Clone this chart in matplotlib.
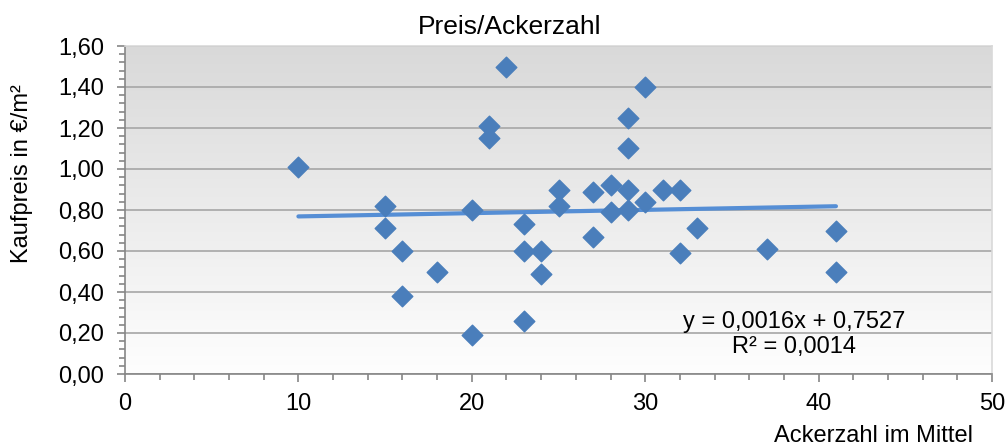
import numpy as np
import matplotlib.pyplot as plt
from matplotlib.ticker import MultipleLocator, FuncFormatter

plt.rcParams['font.family'] = ['Liberation Sans', 'DejaVu Sans']

## DATA
ackerzahl = [10, 15, 15, 16, 16, 18, 20, 20, 21, 21, 22, 23, 23, 23, 24, 24,
             25, 25, 27, 27, 28, 28, 29, 29, 29, 29, 30, 30, 31, 32, 32, 33,
             37, 41, 41]
kaufpreis = [1.01, 0.82, 0.71, 0.60, 0.38, 0.50, 0.80, 0.19, 1.21, 1.15, 1.50,
             0.73, 0.60, 0.26, 0.60, 0.49, 0.90, 0.82, 0.89, 0.67, 0.92, 0.79,
             1.25, 1.10, 0.90, 0.80, 1.40, 0.84, 0.90, 0.90, 0.59, 0.71,
             0.61, 0.70, 0.50]

# Trendline as shown in the chart
slope = 0.0016
intercept = 0.7527
r2 = 0.0014

x = np.array(ackerzahl)
y = np.array(kaufpreis)

## PLOT
fig = plt.figure(figsize=(10.07, 4.46), dpi=100)
ax = fig.add_axes([125 / 1007, 72 / 446, 867 / 1007, 328 / 446])

# gradient background, light at bottom, grey at top
grad = np.linspace(0, 1, 256).reshape(-1, 1)
ax.imshow(grad, extent=[0, 1, 0, 1], transform=ax.transAxes, aspect='auto',
          cmap=plt.matplotlib.colors.LinearSegmentedColormap.from_list(
              'bg', ['#fefefe', '#d9d9d9']),
          origin='lower', zorder=0)

ax.grid(axis='y', color='#a6a6a6', linewidth=1.2, zorder=1)
ax.set_axisbelow(True)

trend_x = np.array([x.min(), x.max()])
ax.plot(trend_x, slope * trend_x + intercept, color='#558ed5', linewidth=3,
        solid_capstyle='round', zorder=2)
ax.scatter(x, y, marker='D', s=110, color='#4a7ebb', edgecolor='#4a7ebb',
           zorder=3)

ax.set_xlim(0, 50)
ax.set_ylim(0, 1.6)
ax.xaxis.set_major_locator(MultipleLocator(10))
ax.xaxis.set_minor_locator(MultipleLocator(2))
ax.yaxis.set_major_locator(MultipleLocator(0.2))
ax.yaxis.set_minor_locator(MultipleLocator(0.04))
ax.yaxis.set_major_formatter(FuncFormatter(lambda v, p: f'{v:.2f}'.replace('.', ',')))

ax.tick_params(which='major', length=6, width=1.2, color='#868686',
               labelsize=17)
ax.tick_params(axis='x', which='major', pad=8)
ax.tick_params(axis='y', which='major', pad=9)
ax.tick_params(which='minor', length=4, width=1.2, color='#868686')

for s in ['left', 'bottom']:
    ax.spines[s].set_color('#868686')
    ax.spines[s].set_linewidth(1.2)
for s in ['top', 'right']:
    ax.spines[s].set_color('#d9d9d9')
    ax.spines[s].set_linewidth(1.2)

ax.text(38.6, 0.255, 'y = 0,0016x + 0,7527', ha='center', va='center', fontsize=17)
ax.text(38.6, 0.133, 'R² = ' + f'{r2:.4f}'.replace('.', ','), ha='center',
        va='center', fontsize=17)

fig.text(510 / 1007, 1 - 27 / 446, 'Preis/Ackerzahl', ha='center', va='center',
         fontsize=19)
fig.text(22 / 1007, 1 - 174 / 446, 'Kaufpreis in €/m²', rotation=90,
         ha='center', va='center', fontsize=17)
fig.text(973 / 1007, 1 - 436 / 446, 'Ackerzahl im Mittel', ha='right',
         va='center', fontsize=17)

fig.savefig('out.png', dpi=100)
